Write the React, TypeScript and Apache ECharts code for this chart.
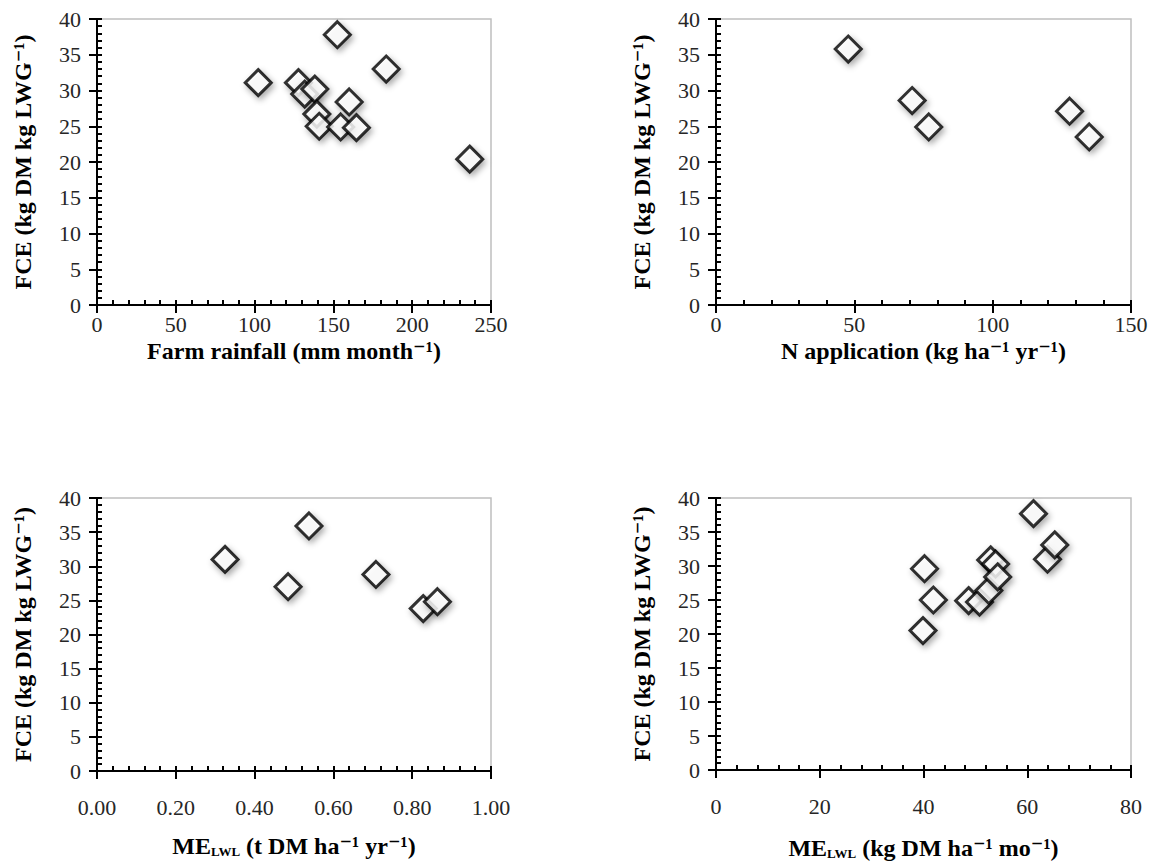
import React, { useEffect, useRef } from "react";
import * as echarts from "echarts";

// Panel A: farm rainfall (mm month-1) vs FCE
const rainfall = [102.3, 152.5, 183.5, 127.8, 131.8, 138.2, 139.5, 141.0, 154.6, 160.0, 164.6, 236.5];
const fceRainfall = [31.1, 37.8, 33.0, 31.1, 29.5, 30.2, 26.7, 25.0, 24.9, 28.4, 24.8, 20.4];

// Panel B: N application (kg ha-1 yr-1) vs FCE
const nApplication = [47.8, 70.9, 76.9, 127.8, 134.9];
const fceNApp = [35.8, 28.6, 24.9, 27.1, 23.5];

// Panel C: ME_LWL (t DM ha-1 yr-1) vs FCE
const meYear = [0.325, 0.538, 0.485, 0.708, 0.828, 0.864];
const fceMeYear = [31.0, 35.9, 27.0, 28.8, 23.8, 24.8];

// Panel D: ME_LWL (kg DM ha-1 mo-1) vs FCE
const meMonth = [40.2, 41.9, 39.9, 48.7, 50.8, 52.6, 52.95, 53.9, 54.3, 61.2, 63.9, 65.3];
const fceMeMonth = [29.6, 25.0, 20.5, 24.9, 24.7, 26.4, 30.9, 30.3, 28.4, 37.7, 31.0, 33.1];

// Axis ranges / tick intervals
const yRange = { min: 0, max: 40, interval: 5 };
const xRanges = [
  { min: 0, max: 250, interval: 50, decimals: 0 },
  { min: 0, max: 150, interval: 50, decimals: 0 },
  { min: 0, max: 1, interval: 0.2, decimals: 2 },
  { min: 0, max: 80, interval: 20, decimals: 0 },
];

const yTitle = "FCE (kg DM kg LWG\u207B\u00B9)";
const xTitles = [
  "Farm rainfall (mm month\u207B\u00B9)",
  "N application (kg ha\u207B\u00B9 yr\u207B\u00B9)",
  "{m|ME}{s|LWL}{m| (t DM ha\u207B\u00B9 yr\u207B\u00B9)}",
  "{m|ME}{s|LWL}{m| (kg DM ha\u207B\u00B9 mo\u207B\u00B9)}",
];

const FONT = "'Liberation Serif', 'DejaVu Serif', serif";
const TICK_SIZE = 22;
const TITLE_SIZE = 24;

const grids = [
  { left: 97, top: 19, width: 394, height: 286 },
  { left: 716, top: 19, width: 415, height: 286 },
  { left: 97, top: 498, width: 394, height: 273 },
  { left: 716, top: 498, width: 415, height: 278 },
];
const xLabelMargins = [8, 8, 25, 25];
const xNameGaps = [34, 34, 63, 66];

export default function App() {
  const ref = useRef<HTMLDivElement>(null);

  useEffect(() => {
    if (!ref.current) return;
    const chart = echarts.init(ref.current, null, { renderer: "svg" });

    const xAxes: any[] = [];
    const yAxes: any[] = [];
    const series: any[] = [];
    const datasets = [
      [rainfall, fceRainfall],
      [nApplication, fceNApp],
      [meYear, fceMeYear],
      [meMonth, fceMeMonth],
    ];

    grids.forEach((g, i) => {
      const xr = xRanges[i];
      xAxes.push({
        type: "value",
        gridIndex: i,
        position: "bottom",
        min: xr.min,
        max: xr.max,
        interval: xr.interval,
        splitLine: { show: false },
        axisLine: { show: true, onZero: false, lineStyle: { color: "#000", width: 2 } },
        axisTick: { show: true, inside: false, length: 8, lineStyle: { color: "#000", width: 2 } },
        axisLabel: {
          show: true,
          margin: xLabelMargins[i],
          fontFamily: FONT,
          fontSize: TICK_SIZE,
          color: "#262626",
          formatter: (v: number) => v.toFixed(xr.decimals),
        },
        name: xTitles[i],
        nameLocation: "middle",
        nameGap: xNameGaps[i],
        nameTextStyle: {
          fontFamily: FONT,
          fontSize: TITLE_SIZE,
          fontWeight: "bold",
          color: "#000",
          rich: {
            m: { fontFamily: FONT, fontSize: TITLE_SIZE, fontWeight: "bold", color: "#000" },
            s: { fontFamily: FONT, fontSize: 13, fontWeight: "bold", color: "#000", verticalAlign: "bottom", lineHeight: 4 },
          },
        },
      });
      xAxes.push({
        type: "value",
        gridIndex: i,
        position: "bottom",
        min: xr.min,
        max: xr.max,
        interval: xr.interval,
        splitLine: { show: false },
        axisLine: { show: false, onZero: false },
        axisLabel: { show: false },
        axisTick: { show: true, inside: true, length: 5, lineStyle: { color: "#000", width: 2 } },
        minorTick: { show: true, splitNumber: 5, length: 5, lineStyle: { color: "#000", width: 2 } },
      });
      yAxes.push({
        type: "value",
        gridIndex: i,
        position: "left",
        min: yRange.min,
        max: yRange.max,
        interval: yRange.interval,
        splitLine: { show: false },
        axisLine: { show: true, onZero: false, lineStyle: { color: "#000", width: 2 } },
        axisTick: { show: true, inside: false, length: 8, lineStyle: { color: "#000", width: 2 } },
        axisLabel: { show: true, margin: 16, fontFamily: FONT, fontSize: TICK_SIZE, color: "#262626" },
        name: yTitle,
        nameLocation: "middle",
        nameRotate: 90,
        nameGap: 62,
        nameTextStyle: { fontFamily: FONT, fontSize: TITLE_SIZE, fontWeight: "bold", color: "#000" },
      });
      yAxes.push({
        type: "value",
        gridIndex: i,
        position: "left",
        min: yRange.min,
        max: yRange.max,
        interval: yRange.interval,
        splitLine: { show: false },
        axisLine: { show: false, onZero: false },
        axisLabel: { show: false },
        axisTick: { show: true, inside: true, length: 5, lineStyle: { color: "#000", width: 2 } },
        minorTick: { show: true, splitNumber: 5, length: 5, lineStyle: { color: "#000", width: 2 } },
      });
      const [xs, ys] = datasets[i];
      series.push({
        type: "scatter",
        xAxisIndex: i * 2,
        yAxisIndex: i * 2,
        symbol: "diamond",
        symbolSize: [26, 26],
        data: xs.map((x, k) => [x, ys[k]]),
        itemStyle: {
          color: "#fff",
          borderColor: "#000",
          borderWidth: 3,
          shadowBlur: 6,
          shadowColor: "rgba(0,0,0,0.4)",
          shadowOffsetX: 2,
          shadowOffsetY: 3,
        },
        emphasis: { disabled: true },
      });
    });

    chart.setOption({
      animation: false,
      backgroundColor: "#fff",
      grid: grids.map((g) => ({
        ...g,
        show: true,
        borderColor: "#bfbfbf",
        borderWidth: 1.5,
        backgroundColor: "transparent",
      })),
      xAxis: xAxes,
      yAxis: yAxes,
      series,
    });

    return () => chart.dispose();
  }, []);

  return (
    <div
      ref={ref}
      style={{ position: "absolute", left: 0, top: 0, width: 1155, height: 861, background: "#fff" }}
    />
  );
}
